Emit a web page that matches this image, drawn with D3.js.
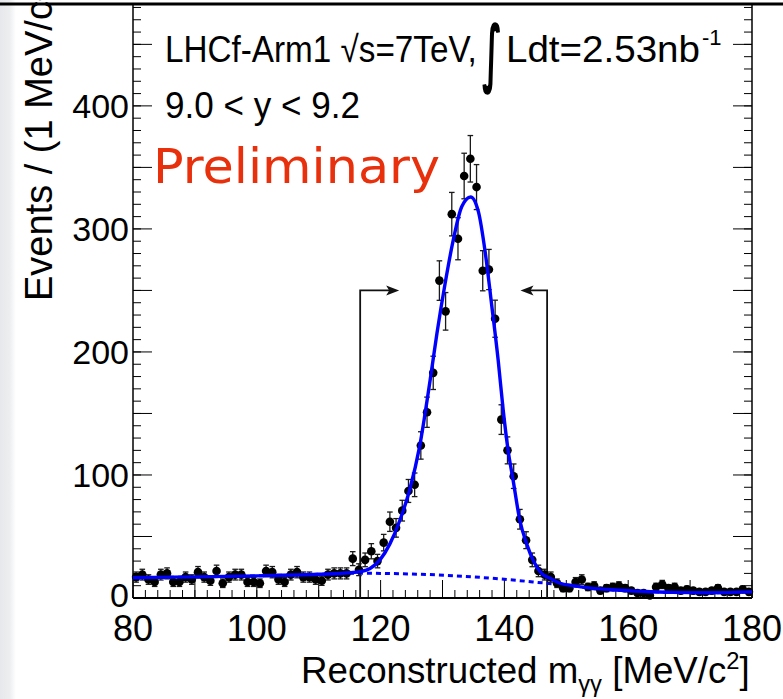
<!DOCTYPE html>
<html>
<head>
<meta charset="utf-8">
<script src="https://cdn.jsdelivr.net/npm/d3@7/dist/d3.min.js"></script>
<style>
  html, body { margin: 0; padding: 0; background: #fff; overflow: hidden; }
</style>
</head>
<body>
<div id="chart"></div>
<script>
// histogram: 1 MeV bins from 80 to 180 MeV
const binLow = 80;
const binWidth = 1;
const counts = [
  17, 19, 15, 13, 19, 20, 13, 13, 17, 15,
  21, 17, 14, 22, 12, 17, 19, 19, 13, 13,
  12, 22, 21, 15, 13, 19, 21, 17, 17, 15,
  14, 19, 20, 20, 20, 32, 23, 31, 38, 30,
  45, 62, 57, 71, 87, 92, 124, 151, 183, 258,
  233, 312, 292, 343, 357, 334, 266, 267, 227, 145,
  120, 99, 64, 47, 31, 22, 19, 17, 12, 8,
  8, 13, 15, 9, 10, 6, 8, 9, 10, 8,
  6, 4, 4, 2, 9, 11, 8, 9, 6, 7,
  6, 5, 5, 6, 8, 5, 5, 5, 7, 5
];

// fit curve (signal + background)
const fitMass = [80, 90, 100, 110, 115, 116.7, 118.3, 119.9, 121.5, 123.1, 124.7, 126.3, 128, 129.1,
  130.4, 131.7, 133.1, 134.55, 135.8, 136.9, 137.95, 139.0, 139.8, 140.6, 141.4, 142.5, 143.6,
  144.7, 146, 147.4, 149, 151, 154, 158, 162, 167, 173, 180];
const fitValue = [16.5, 17.2, 18.0, 19.3, 20.5, 21.4, 24, 31, 44, 63, 88, 123, 177, 215,
  255, 290, 318, 326, 314, 281, 238, 193, 153, 120, 96, 63, 44,
  30, 20, 16, 12, 10, 8, 6.5, 5.5, 4.6, 4.3, 5];

// background component (dashed)
const bgMass = [80, 100, 110, 117, 120, 125, 130.7, 136, 141.4, 146.8, 150, 154, 158, 162, 167, 173, 180];
const bgValue = [16.5, 18.0, 19.3, 20.2, 20, 19.5, 18.4, 16.8, 14.6, 12, 10.5, 8, 6.5, 5.5, 4.6, 4.3, 5];

const xTickLabels = [80, 100, 120, 140, 160, 180];
const yTickLabels = [0, 100, 200, 300, 400];

// mass window markers
const cutMass = [116.7, 146.9];
const cutTop = 250;
const cutArrowEnd = [123, 142.6];

const width = 783, height = 699;
const plot = { left: 133, right: 752, top: 5, bottom: 598 };

const svg = d3.select("#chart").append("svg")
  .attr("width", width)
  .attr("height", height)
  .style("font-family", "'Liberation Sans', Arial, Helvetica, sans-serif");

// slide edge on the left
const grad = svg.append("defs").append("linearGradient").attr("id", "edge");
grad.append("stop").attr("offset", "0%").attr("stop-color", "#e6e8eb");
grad.append("stop").attr("offset", "60%").attr("stop-color", "#eceef0");
grad.append("stop").attr("offset", "100%").attr("stop-color", "#ffffff");
svg.append("rect").attr("x", 0).attr("y", 0).attr("width", 16).attr("height", height).attr("fill", "url(#edge)");

const x = d3.scaleLinear().domain([80, 180]).range([plot.left, plot.right]);
const y = d3.scaleLinear().domain([0, 482]).range([plot.bottom, plot.top]);

const data = counts.map((n, i) => ({ m: binLow + (i + 0.5) * binWidth, n: n, err: Math.sqrt(n) }));

// axes ticks (inside, ROOT style)
const g = svg.append("g");
const xMinor = d3.range(80, 180.01, 2);
const xMajor = d3.range(80, 180.01, 10);
const yMinor = d3.range(0, 481, 10);
const yMajor = d3.range(0, 481, 50);

g.selectAll(".xminor").data(xMinor).join("line")
  .attr("x1", d => x(d)).attr("x2", d => x(d))
  .attr("y1", plot.bottom).attr("y2", plot.bottom - 8)
  .attr("stroke", "#000").attr("stroke-width", 1);
g.selectAll(".xmajor").data(xMajor).join("line")
  .attr("x1", d => x(d)).attr("x2", d => x(d))
  .attr("y1", plot.bottom).attr("y2", plot.bottom - 18)
  .attr("stroke", "#000").attr("stroke-width", 1);

[plot.left, plot.right].forEach(x0 => {
  const dir = x0 === plot.left ? 1 : -1;
  g.append("g").selectAll("line").data(yMinor).join("line")
    .attr("x1", x0).attr("x2", x0 + dir * 8)
    .attr("y1", d => y(d)).attr("y2", d => y(d))
    .attr("stroke", "#000").attr("stroke-width", 1);
  g.append("g").selectAll("line").data(yMajor).join("line")
    .attr("x1", x0).attr("x2", x0 + dir * 19)
    .attr("y1", d => y(d)).attr("y2", d => y(d))
    .attr("stroke", "#000").attr("stroke-width", 1);
});

// frame
svg.append("line").attr("x1", plot.left).attr("x2", plot.left).attr("y1", plot.top).attr("y2", plot.bottom)
  .attr("stroke", "#000").attr("stroke-width", 1.5);
svg.append("line").attr("x1", plot.right).attr("x2", plot.right).attr("y1", plot.top).attr("y2", plot.bottom)
  .attr("stroke", "#000").attr("stroke-width", 1.5);
svg.append("line").attr("x1", plot.left).attr("x2", plot.right).attr("y1", plot.bottom).attr("y2", plot.bottom)
  .attr("stroke", "#000").attr("stroke-width", 2);
svg.append("line").attr("x1", 0).attr("x2", width).attr("y1", 4).attr("y2", 4)
  .attr("stroke", "#000").attr("stroke-width", 3);

// tick labels
svg.append("g").selectAll("text").data(xTickLabels).join("text")
  .attr("x", d => x(d)).attr("y", 641)
  .attr("text-anchor", "middle")
  .style("font-size", "36px")
  .text(d => d);

svg.append("g").selectAll("text").data(yTickLabels).join("text")
  .attr("x", 129).attr("y", d => y(d) + 12 - (d === 0 ? 3 : 0))
  .attr("text-anchor", "end")
  .style("font-size", "34px")
  .text(d => d);

// cut lines with arrows
const cuts = svg.append("g");
cutMass.forEach((c, i) => {
  const x0 = x(c), x1 = x(cutArrowEnd[i]), yt = y(cutTop);
  const dir = Math.sign(x1 - x0);
  cuts.append("path")
    .attr("d", `M${x0},${plot.bottom}V${yt}H${x1 - dir * 9}`)
    .attr("fill", "none").attr("stroke", "#111").attr("stroke-width", 1.8);
  cuts.append("path")
    .attr("d", `M${x1},${yt}L${x1 - dir * 13},${yt - 5}L${x1 - dir * 10},${yt}L${x1 - dir * 13},${yt + 5}Z`)
    .attr("fill", "#111");
});

// fit curves
const line = d3.line().x(d => x(d[0])).y(d => y(d[1])).curve(d3.curveMonotoneX);
svg.append("path")
  .datum(bgMass.map((m, i) => [m, bgValue[i]]))
  .attr("d", line)
  .attr("fill", "none").attr("stroke", "#0000ff").attr("stroke-width", 3)
  .attr("stroke-dasharray", "5,4");

// data points with error bars
const pts = svg.append("g");
pts.selectAll(".eb").data(data).join("line")
  .attr("x1", d => x(d.m)).attr("x2", d => x(d.m))
  .attr("y1", d => y(Math.max(0, d.n - d.err))).attr("y2", d => y(d.n + d.err))
  .attr("stroke", "#1a1a1a").attr("stroke-width", 1.3);
pts.selectAll(".capTop").data(data).join("line")
  .attr("x1", d => x(d.m) - 2.8).attr("x2", d => x(d.m) + 2.8)
  .attr("y1", d => y(d.n + d.err)).attr("y2", d => y(d.n + d.err))
  .attr("stroke", "#1a1a1a").attr("stroke-width", 1.3);
pts.selectAll(".capBot").data(data.filter(d => d.n - d.err > 0)).join("line")
  .attr("x1", d => x(d.m) - 2.8).attr("x2", d => x(d.m) + 2.8)
  .attr("y1", d => y(d.n - d.err)).attr("y2", d => y(d.n - d.err))
  .attr("stroke", "#1a1a1a").attr("stroke-width", 1.3);

svg.append("path")
  .datum(fitMass.map((m, i) => [m, fitValue[i]]))
  .attr("d", line)
  .attr("fill", "none").attr("stroke", "#0000ff").attr("stroke-width", 3.4);

pts.selectAll("circle").data(data).join("circle")
  .attr("cx", d => x(d.m)).attr("cy", d => y(d.n))
  .attr("r", 4.3).attr("fill", "#000");

// squeeze a text group horizontally into [x0, x1]
function squeeze(sel, x0, x1) {
  const b = sel.node().getBBox();
  const s = (x1 - x0) / b.width;
  sel.attr("transform", `translate(${x0 - b.x * s},0) scale(${s},1)`);
}

// labels
const l1 = svg.append("g");
l1.append("text").attr("x", 0).attr("y", 62).style("font-size", "37px").text("LHCf-Arm1 √s=7TeV,");
squeeze(l1, 165, 477);

const integ = svg.append("g");
integ.append("text").attr("x", 0).attr("y", 78)
  .style("font-family", "'DejaVu Sans', sans-serif")
  .style("font-weight", "bold")
  .style("font-size", "74px").text("∫");
squeeze(integ, 482, 502);

const l2 = svg.append("g");
l2.append("text").attr("x", 0).attr("y", 62).style("font-size", "37px").text("Ldt=2.53nb");
squeeze(l2, 506, 700);
svg.append("text").attr("x", 702).attr("y", 45).style("font-size", "22px").text("-1");

const l3 = svg.append("g");
l3.append("text").attr("x", 0).attr("y", 118).style("font-size", "37px").text("9.0 < y < 9.2");
squeeze(l3, 165, 360);

svg.append("text").attr("x", 153).attr("y", 183)
  .attr("textLength", 287).attr("lengthAdjust", "spacingAndGlyphs")
  .style("font-family", "'DejaVu Sans', sans-serif")
  .style("font-size", "48px").attr("fill", "#e8300c")
  .text("Preliminary");

// x axis title
const xt = svg.append("g");
const xtText = xt.append("text").attr("x", 0).attr("y", 683).style("font-size", "37px");
xtText.append("tspan").text("Reconstructed m");
xtText.append("tspan").attr("dy", 9).style("font-size", "24px").text("γγ");
xtText.append("tspan").attr("dy", -9).text(" [MeV/c");
xtText.append("tspan").attr("dy", -14).style("font-size", "24px").text("2");
xtText.append("tspan").attr("dy", 14).text("]");
squeeze(xt, 301, 750);

// y axis title
svg.append("text")
  .attr("transform", "translate(52,301) rotate(-90)")
  .style("font-size", "38px")
  .text("Events / (1 MeV/c²)");
</script>
</body>
</html>
